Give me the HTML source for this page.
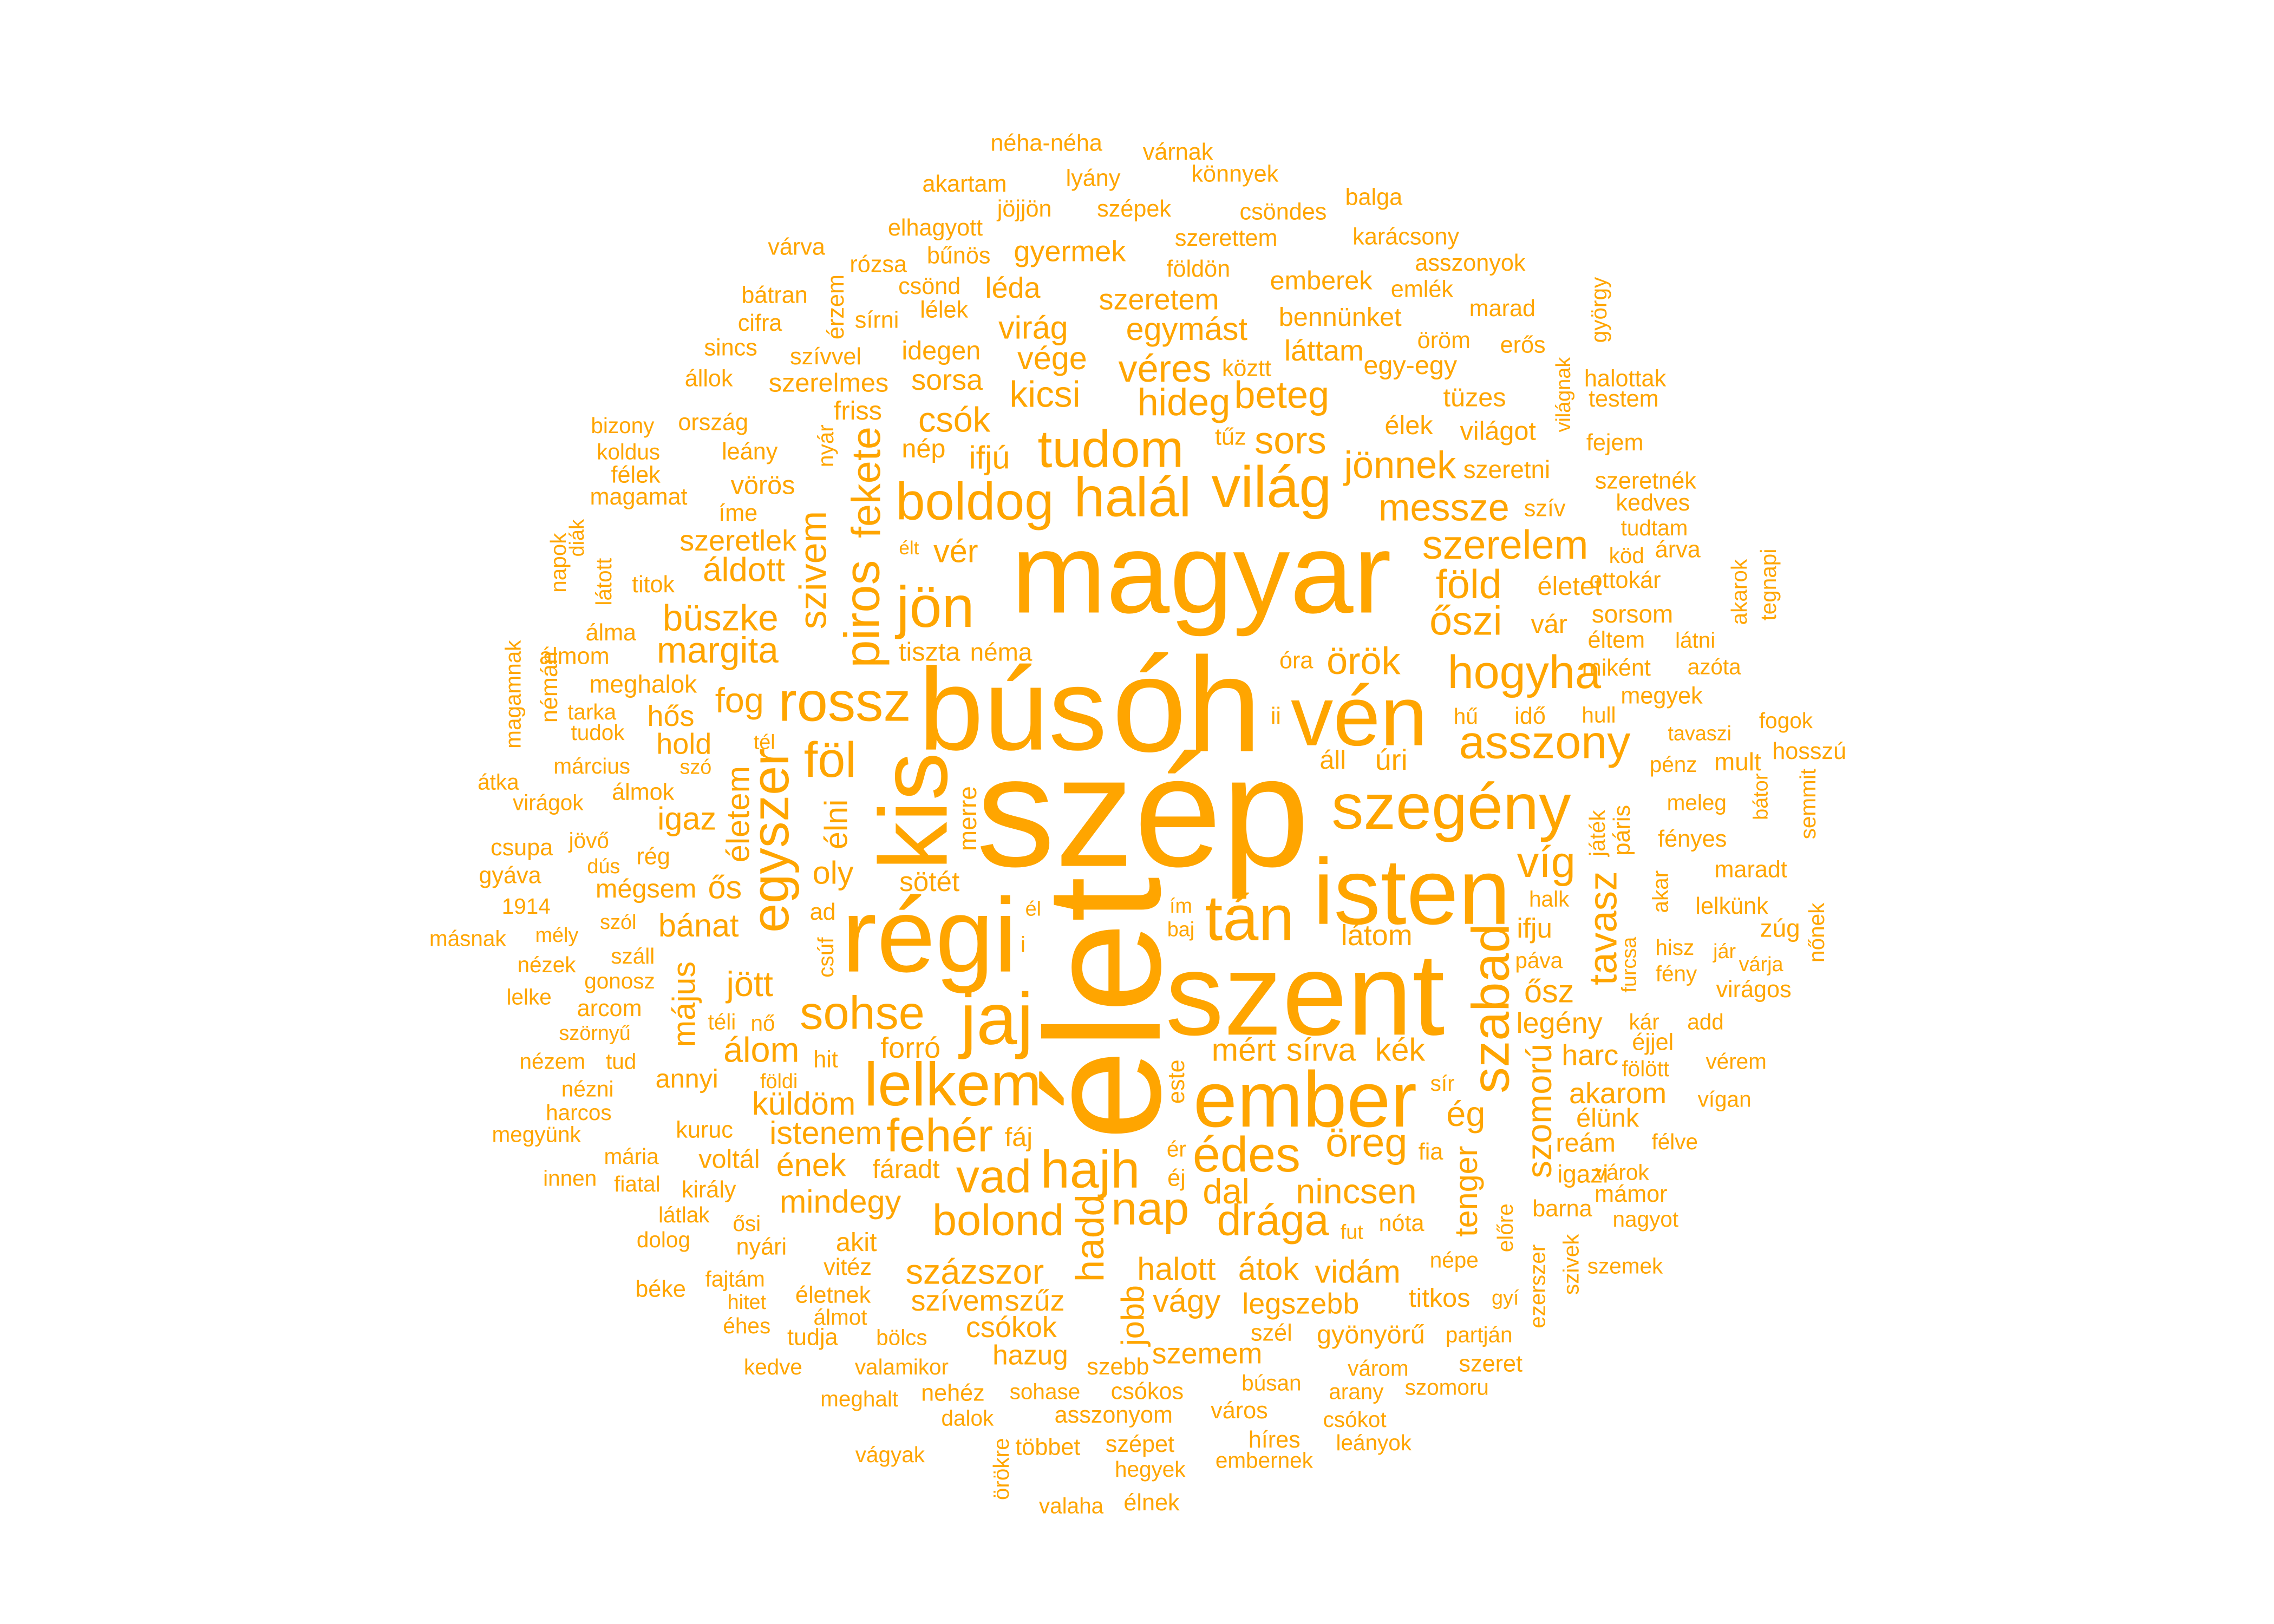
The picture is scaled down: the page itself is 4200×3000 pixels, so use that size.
<!DOCTYPE html>
<html>
<head>
<meta charset="utf-8">
<style>
html,body{margin:0;padding:0;background:#fff;}
svg{display:block;}
text{font-family:"Liberation Sans",Arial,sans-serif;fill:#FFA500;}
</style>
</head>
<body>
<svg id="cloud" width="4200" height="3000" viewBox="0 0 1556 1111" preserveAspectRatio="none" xmlns="http://www.w3.org/2000/svg">
<rect x="0" y="0" width="1556" height="1111" fill="#ffffff"/>
<g id="words"></g>
</svg>
<script>
const words = ["szép","magyar","élet","bús","óh","szent","régi","isten","kis","ember","vén","jaj","tán","lelkem","rossz","halál","világ","boldog","tudom","jön","szegény","hogyha","asszony","egyszer","föl","sohse","fehér","vad","hajh","nap","édes","drága","bolond","szabad","szerelem","föld","őszi","messze","jönnek","beteg","sors","véres","hideg","kicsi","csók","piros","fekete","szivem","büszke","margita","áldott","víg","örök","öreg","nincsen","dal","kék","sírva","mért","ősz","ifju","tavasz","szomorú","tenger","ég","álom","küldöm","istenem","ének","mindegy","százszor","szívem","szűz","csókok","halott","átok","vidám","vágy","legszebb","hazug","szemem","hadd","jobb","gyönyörű","titkos","jött","május","bánat","ős","mégsem","igaz","élni","oly","életem","fog","hold","hős","meghalok","tiszta","néma","egymást","szeretem","láttam","bennünket","emberek","gyermek","léda","virág","vége","idegen","sorsa","szerelmes","friss","nép","ifjú","vér","vörös","szeretlek","áll","úri","látom","sötét","merre","forró","fáj","fáradt","akit","hit","annyi","voltál","kuruc","király","nyári","vitéz","életnek","legény","harc","akarom","élünk","reám","igazi","barna",
"néha-néha","várnak","lyány","könnyek","akartam","jöjjön","szépek","csöndes","balga","elhagyott","várva","bűnös","szerettem","karácsony","rózsa","földön","asszonyok","csönd","lélek","emlék","bátran","sírni","marad","cifra","érzem","erős","sincs","szívvel","öröm","köztt","egy-egy","állok","halottak","testem","tüzes","ország","tűz","élek","világot","bizony","koldus","fejem","félek","leány","szeretni","szeretnék","magamat","íme","kedves","szív","tudtam","élt","köd","árva","titok","látott","napok","diák","ottokár","életet","sorsom","vár","éltem","látni","álma","álmom","magamnak","óra","miként","azóta","megyek","idő","hű","hull","tudok","tarka","némán","fogok","tavaszi","pénz","mult","hosszú","szó","tél","március","álmok","átka","virágok","meleg","bátor","semmit","csupa","jövő","fényes","játék","páris","dús","rég","gyáva","maradt","akar","halk","1914","szól","lelkünk","zúg","nőnek","másnak","mély","hisz","jár","nézek","száll","páva","fény","várja","gonosz","lelke","virágos","arcom","kár","add","szörnyű","nő","téli","éjjel","nézem","tud","fölött","vérem","nézni","harcos","vígan","megyünk","mária","félve","innen","fiatal","várok","mámor","látlak","ősi","nagyot","dolog","szemek","béke","fajtám","hitet","éhes","tudja","álmot","bölcs","kedve","valamikor","nehéz","sohase","csókos","búsan","szél","várom","szomoru","szeret","partján","arany","meghalt","dalok","asszonyom","város","csókot","leányok","híres","szépet","többet","hegyek","embernek","vágyak","élnek","valaha","örökre","fut","nóta","fia","népe","gyí","sír","este","ér","éj","baj","ím","él","ad","csúf","i","ii","előre","ezerszer","szivek","furcsa","világnak","györgy","akarok","tegnapi","nyár","szebb","földi","szó2"];
const xs = [782,822,755,693,812,893,636,966,625,893,930,682,855,652,578,775,870,667,760,640,993,1043,1057,527,568,590,643,680,746,787,853,871,683,1020,1030,1005,1003,988,958,877,883,797,810,715,653,590,593,556,493,491,509,1058,933,935,928,839,958,904,851,1060,1050,1097,1053,1003,1003,521,550,565,555,575,667,655,708,692,805,868,929,812,890,705,826,746,775,938,985,513,468,478,496,442,470,572,570,505,506,468,459,440,636,685,812,793,906,917,904,732,693,707,720,644,648,567,587,632,677,654,522,505,912,952,942,636,662,623,697,620,586,565,470,499,482,485,521,580,570,1067,1088,1107,1100,1085,1083,1069,
716,806,748,845,660,701,776,878,940,640,545,656,839,962,601,820,1006,636,646,973,530,600,1028,520,572,1042,500,565,988,853,965,485,1112,1111,1009,488,842,964,1025,426,430,1105,435,513,1031,1126,437,505,1131,1057,1132,622,1113,1148,447,413,382,395,1112,1074,1117,1060,1106,1160,418,393,351,887,1106,1173,1137,1047,1003,1094,409,405,376,1222,1163,1145,1189,1238,476,523,405,440,341,375,1161,1205,1237,357,403,1158,1093,1110,413,447,349,1198,1136,1060,360,423,1185,1218,1243,320,381,1146,1180,374,433,1053,1147,1205,424,362,1200,417,1125,1167,407,522,494,1131,378,425,1126,1188,402,396,1180,367,432,1146,390,436,1110,1116,468,511,1126,454,1112,452,503,511,511,556,575,617,529,617,652,715,785,870,870,943,990,1020,1012,928,588,662,762,848,927,940,872,780,717,787,865,609,788,733,685,925,959,979,995,1030,987,805,805,805,808,808,707,563,565,700,873,1030,1052,1075,1115,1070,1094,1190,1210,565,765,533,476];
const ys = [555,392,690,485,482,680,640,610,555,752,490,697,628,742,480,340,333,343,307,415,552,460,508,575,520,693,777,805,800,827,790,835,835,690,373,400,425,347,318,270,301,252,275,270,287,420,330,390,423,445,390,590,452,782,815,815,718,718,718,678,635,635,760,815,762,718,755,775,797,822,870,890,890,908,868,868,870,890,892,927,926,847,900,913,888,673,687,633,607,608,560,564,597,557,479,509,490,468,446,446,225,205,240,217,192,172,197,224,245,240,260,262,281,307,313,377,332,370,520,520,640,603,560,717,778,800,850,725,738,793,773,814,853,867,886,700,722,748,765,782,803,827,
98,104,122,119,126,143,143,145,135,156,169,175,163,162,181,184,180,196,212,198,202,219,211,221,210,236,238,244,233,252,250,259,259,273,272,289,299,291,295,291,309,303,325,309,321,329,340,351,344,348,361,375,380,376,400,398,385,368,397,401,420,427,438,438,433,449,475,452,457,456,476,490,490,489,501,487,470,493,502,523,521,514,525,508,524,542,535,549,549,545,550,580,575,574,570,568,593,586,599,595,610,615,620,631,620,635,638,642,640,648,651,660,654,657,666,660,671,682,677,690,699,699,707,700,699,713,726,726,731,726,745,761,752,776,791,781,806,810,802,817,831,837,834,848,866,882,875,891,907,915,901,915,935,935,953,952,952,946,912,936,949,933,913,952,957,970,968,965,971,987,985,988,990,1005,999,995,1028,1030,1005,843,837,788,862,888,741,740,786,806,636,620,622,624,655,646,490,840,880,865,660,270,212,405,400,305,935,740,525];
const sizes = [108,78,112,80,92,80,72,64,66,54,58,50,44,42,38,38,40,36,36,40,44,32,32,36,34,32,32,32,36,32,34,30,30,36,28,28,28,26,26,26,26,26,26,25,24,34,28,26,25,25,23,30,26,28,24,24,22,22,22,22,19,27,24,22,24,24,22,22,22,22,24,20,20,20,22,22,22,22,20,19,20,27,22,18,18,24,22,22,22,18,22,22,22,22,24,20,20,17,18,17,22,20,20,18,18,20,20,22,22,18,20,18,18,18,22,22,18,20,18,20,20,19,17,20,18,18,18,16,18,18,16,16,16,16,16,20,20,20,18,18,17,16,
16,16,16,16,16,16,16,16,16,16,16,16,16,16,16,16,16,16,16,16,16,16,16,16,16,16,16,16,16,16,18,16,16,16,18,16,16,18,18,15,15,16,16,16,17,16,16,16,16,16,15,13,15,16,16,15,15,14,16,18,17,18,16,15,16,16,15,16,16,15,16,16,15,15,15,15,16,15,14,15,17,16,14,14,15,16,15,15,15,14,15,16,15,16,15,16,14,16,16,16,15,15,15,14,16,17,15,15,14,15,14,15,15,15,15,14,15,15,16,16,15,15,14,15,15,16,15,15,15,15,15,15,15,15,15,15,15,15,15,16,15,15,15,15,15,16,15,14,15,16,15,15,15,15,16,15,16,15,16,15,15,16,15,15,15,15,16,16,15,15,16,16,16,15,15,15,16,15,15,14,16,16,15,14,15,16,15,16,14,14,14,16,15,15,16,15,15,15,14,14,15,15,15,15,16,14,16,15];
const rots = ["élet","kis","egyszer","szabad","piros","fekete","szivem","tavasz","szomorú","tenger","hadd","jobb","május","élni","életem","merre","érzem","világnak","györgy","akarok","tegnapi","nyár","látott","napok","diák","magamnak","némán","bátor","semmit","játék","páris","akar","nőnek","este","csúf","előre","ezerszer","szivek","furcsa","örökre"];
const g = document.getElementById('words');
const NS = 'http://www.w3.org/2000/svg';
for (let i = 0; i < words.length; i++) {
  let w = words[i];
  if (w === 'szó2') continue;
  const t = document.createElementNS(NS, 'text');
  
  
  t.setAttribute('text-anchor', 'middle');
  t.setAttribute('dominant-baseline', 'central');
  t.setAttribute('font-size', sizes[i]);
  t.setAttribute('x', xs[i]);
  t.setAttribute('y', ys[i]);
  if (rots.indexOf(w) >= 0) {
    t.setAttribute('transform', 'rotate(-90 ' + xs[i] + ' ' + ys[i] + ')');
  }
  t.textContent = w;
  g.appendChild(t);
}
</script>
</body>
</html>
